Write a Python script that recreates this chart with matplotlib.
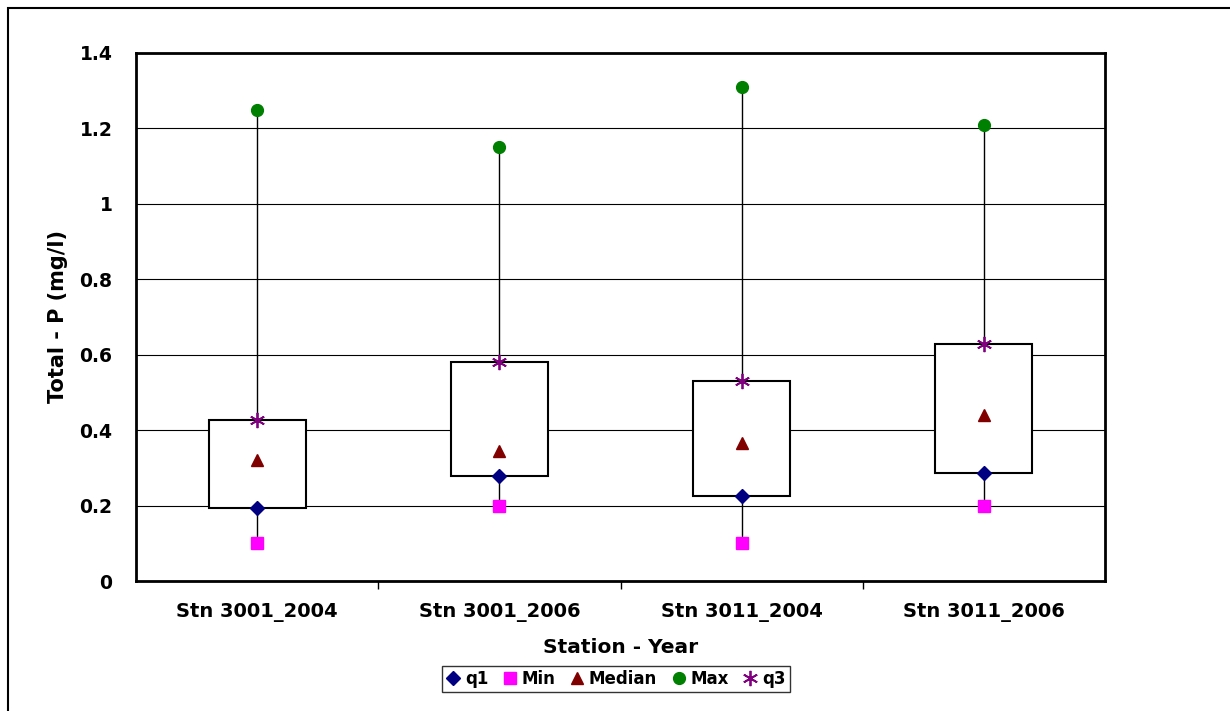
import matplotlib.pyplot as plt
import matplotlib as mpl
from matplotlib.patches import Rectangle

mpl.rcParams['font.family'] = ['DejaVu Sans']
mpl.rcParams['font.weight'] = 'bold'

# Data
stations = ['Stn 3001_2004', 'Stn 3001_2006', 'Stn 3011_2004', 'Stn 3011_2006']
q1 = [0.194, 0.278, 0.225, 0.286]
vmin = [0.10, 0.20, 0.10, 0.20]
median = [0.32, 0.345, 0.366, 0.44]
vmax = [1.25, 1.15, 1.31, 1.21]
q3 = [0.427, 0.58, 0.53, 0.628]

fig = plt.figure(figsize=(12.3, 7.11), dpi=100)
ax = fig.add_axes([0.1106, 0.1828, 0.7878, 0.7427])

# outer chart border (Excel chart area)
fig.patches.append(Rectangle((8 / 1230, -0.01), 1.02, 1 - 8 / 711 + 0.01,
                             transform=fig.transFigure, fill=False,
                             edgecolor='black', lw=1.5, zorder=0))

x = list(range(len(stations)))
bw = 0.4

# whiskers (min to max) and boxes (q1 to q3)
ax.vlines(x, vmin, vmax, color='black', lw=1, zorder=2)
for xi, lo, hi in zip(x, q1, q3):
    ax.add_patch(Rectangle((xi - bw / 2, lo), bw, hi - lo, facecolor='white',
                           edgecolor='black', lw=1.5, zorder=3))

ax.plot(x, q1, ls='none', marker='D', color='#000080', ms=7, label='q1', zorder=5)
ax.plot(x, vmin, ls='none', marker='s', color='#FF00FF', ms=8.5, label='Min', zorder=5)
ax.plot(x, median, ls='none', marker='^', color='#800000', ms=9, label='Median', zorder=5)
ax.plot(x, vmax, ls='none', marker='o', color='#008000', ms=8.5, label='Max', zorder=5)
ax.plot(x, q3, ls='none', marker=(6, 2, 0), color='#800080', ms=11, mew=1.3,
        label='q3', zorder=5)

ax.set_xlim(-0.5, 3.5)
ax.set_ylim(0, 1.4)
ax.set_yticks([0, 0.2, 0.4, 0.6, 0.8, 1.0, 1.2, 1.4])
ax.set_yticklabels(['0', '0.2', '0.4', '0.6', '0.8', '1', '1.2', '1.4'])
ax.yaxis.grid(True, color='black', lw=0.8)
ax.set_axisbelow(True)

ax.set_xticks(x)
ax.set_xticklabels(stations)
ax.set_xticks([0.5, 1.5, 2.5], minor=True)
ax.tick_params(axis='x', which='major', length=0, pad=16, labelsize=14)
ax.tick_params(axis='x', which='minor', length=6, width=1, direction='out')
ax.tick_params(axis='y', length=0, pad=17, labelsize=13.5)
for lab in ax.get_xticklabels() + ax.get_yticklabels():
    lab.set_fontweight('bold')

for s in ax.spines.values():
    s.set_linewidth(2)

ax.set_xlabel('Station - Year', fontsize=14.5, fontweight='bold', labelpad=11)
ax.set_ylabel('Total - P (mg/l)', fontsize=15, fontweight='bold', labelpad=8)

leg = fig.legend(loc='center', bbox_to_anchor=(616 / 1230, 1 - 679 / 711), ncol=5,
                 frameon=True, fancybox=False, edgecolor='black',
                 handlelength=0.8, handletextpad=0.3, columnspacing=0.9,
                 borderpad=0.25, prop={'weight': 'bold', 'size': 12})
leg.get_frame().set_linewidth(1)

fig.savefig('out.png', dpi=100)
